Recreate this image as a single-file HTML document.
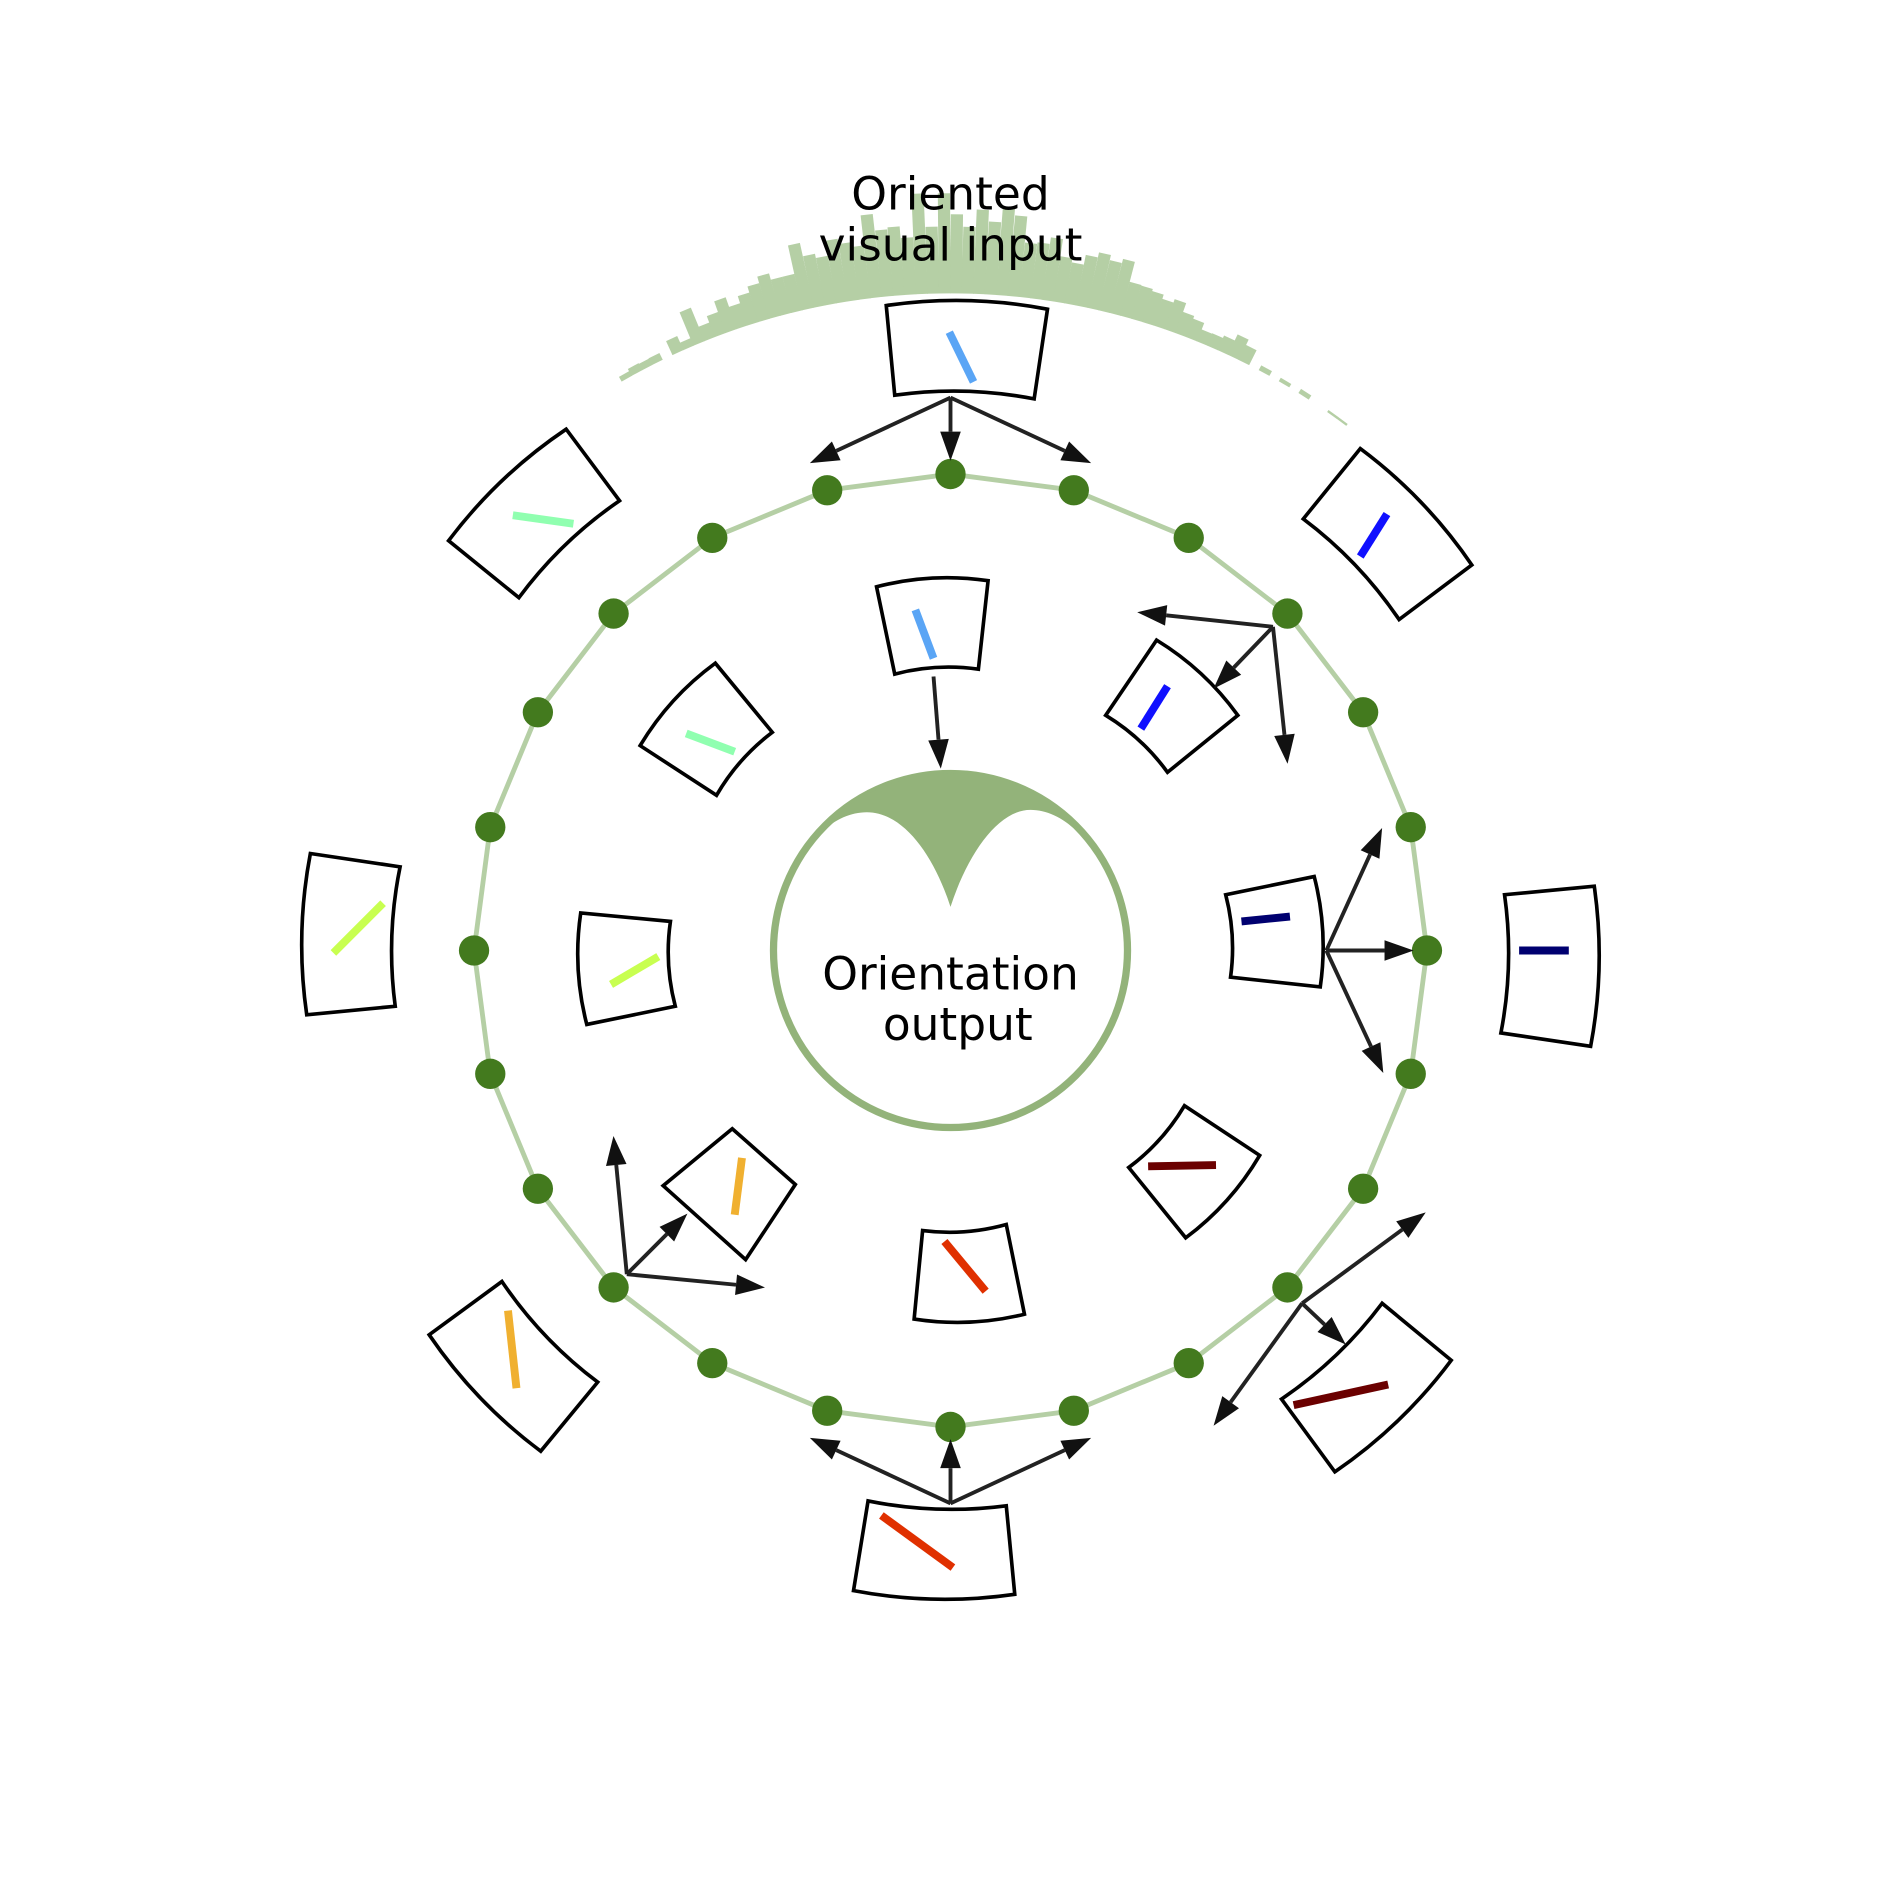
<!DOCTYPE html>
<html><head><meta charset="utf-8"><style>
html,body{margin:0;padding:0;background:#fff;}
svg{display:block;}
text{font-family:"DejaVu Sans","Liberation Sans",sans-serif;}
</style></head><body>
<svg id="s" width="1901" height="1901" viewBox="0 0 1568 1568" xmlns="http://www.w3.org/2000/svg">
<defs>
<clipPath id="cc"><circle cx="784" cy="784" r="146"/></clipPath>
</defs>
<g id="hist" fill="#b5cfa5"></g>
<g id="ring"></g>
<circle cx="784" cy="784" r="146" fill="#fff" stroke="#93b37a" stroke-width="6"/>
<path clip-path="url(#cc)" fill="#93b37a" d="M600,600 L600,760 L642,755 C655,700 685,670 715,670 C745,670 770,705 784,748 C798,705 823,668 850,668 C880,668 910,700 926,755 L970,760 L970,600 Z"/>
<g id="boxes"></g>
<g id="arrows"></g>
<text x="784" y="173" font-size="37.5" text-anchor="middle">Oriented</text>
<text x="784" y="215" font-size="37.5" text-anchor="middle">visual input</text>
<text x="784" y="816" font-size="37.5" text-anchor="middle">Orientation</text>
<text x="790" y="858" font-size="37.5" text-anchor="middle">output</text>
</svg>
<script>
var NS="http://www.w3.org/2000/svg",C=784;
function el(p,t,a){var e=document.createElementNS(NS,t);for(var k in a)e.setAttribute(k,a[k]);document.getElementById(p).appendChild(e);return e;}
var seed=7;function rnd(){seed=(seed*9301+49297)%233280;return seed/233280;}
var R0=542,n=70,a0=-31,a1=39;
for(var i=0;i<n;i++){var a=a0+(a1-a0)*(i+0.5)/n;var h=70*Math.exp(-a*a/(2*13*13))*(0.65+0.6*rnd());if(Math.abs(a)>22)h*=0.6+rnd();if(Math.abs(a)>25&&rnd()<0.35)continue;if(h<2)h=2;
var w=2*Math.PI*R0*((a1-a0)/n)/360+0.6;
el("hist","rect",{x:C-w/2,y:C-R0-h,width:w,height:h,transform:"rotate("+a+" "+C+" "+C+")"});}
var pts=[];for(var k=0;k<24;k++){var t=k*Math.PI/12;pts.push([C+393*Math.sin(t),C-393*Math.cos(t)]);}
el("ring","polygon",{points:pts.map(function(p){return p.join(",")}).join(" "),fill:"none",stroke:"#b5cfa5","stroke-width":4});
pts.forEach(function(p){el("ring","circle",{cx:p[0],cy:p[1],r:12.5,fill:"#437a1e"});});
function edge(p,q){var mx=(p[0]+q[0])/2,my=(p[1]+q[1])/2,dx=mx-C,dy=my-C,d=Math.hypot(dx,dy);var L=Math.hypot(q[0]-p[0],q[1]-p[1]);var s=L*L/(8*d*0.75)*2;return " Q"+(mx+dx/d*s)+","+(my+dy/d*s)+" "+q[0]+","+q[1];}
function box(c,l,col){var d="M"+c[0]+edge(c[0],c[1])+" L"+c[2]+edge(c[2],c[3])+" Z";
el("boxes","path",{d:d,fill:"#fff",stroke:"#000","stroke-width":3,"stroke-linejoin":"miter"});
el("boxes","line",{x1:l[0],y1:l[1],x2:l[2],y2:l[3],stroke:col,"stroke-width":6.5});}
var B=[
[[[731,252],[864,255],[853,329],[738,326]],[783,274,803,315],"#5aa5f5"],
[[[1122,370],[1214,466],[1154,511],[1075,428]],[1144,424,1122,459],"#1010ff"],
[[[1315,731],[1312,863],[1238,852],[1241,738]],[1253,784,1294,784],"#000070"],
[[[1197,1122],[1101,1214],[1057,1154],[1140,1075]],[1067,1159,1145,1142],"#6b0000"],
[[[716,1238],[830,1242],[837,1315],[704,1312]],[727,1250,786,1293],"#e03000"],
[[[414,1057],[493,1140],[446,1197],[354,1101]],[419,1081,426,1145],"#f0b030"],
[[[253,837],[256,704],[330,715],[326,830]],[275,786,316,745],"#c8ff50"],
[[[370,446],[467,354],[511,413],[428,493]],[423,425,473,432],"#90ffb0"],
[[[723,484],[815,479],[807,552],[738,556]],[755,503,770,543],"#5aa5f5"],
[[[954,528],[1021,590],[963,637],[912,590]],[963,566,941,601],"#1010ff"],
[[[1084,723],[1089,814],[1015,806],[1011,738]],[1024,760,1064,756],"#000070"],
[[[1039,953],[978,1021],[931,963],[977,912]],[947,962,1003,961],"#6b0000"],
[[[761,1015],[830,1010],[845,1084],[754,1088]],[779,1024,813,1065],"#e03000"],
[[[656,977],[615,1039],[547,978],[604,931]],[612,955,606,1002],"#f0b030"],
[[[484,845],[479,753],[553,760],[557,830]],[504,812,543,789],"#c8ff50"],
[[[528,615],[590,547],[637,604],[591,656]],[566,605,606,620],"#90ffb0"]];
B.forEach(function(b){box(b[0],b[1],b[2]);});
function arr(x1,y1,x2,y2){var dx=x2-x1,dy=y2-y1,d=Math.hypot(dx,dy),ux=dx/d,uy=dy/d,hl=24,hw=8.5;
var bx=x2-ux*hl,by=y2-uy*hl;
el("arrows","line",{x1:x1,y1:y1,x2:bx,y2:by,stroke:"#222","stroke-width":3.2});
el("arrows","polygon",{points:x2+","+y2+" "+(bx-uy*hw)+","+(by+ux*hw)+" "+(bx+uy*hw)+","+(by-ux*hw),fill:"#111"});}
[[784,328,784,380],[784,328,668,382],[784,328,900,382],[770,558,776,634],
[1050,517,938,505],[1050,517,1001,568],[1050,517,1062,630],
[1094,784,1140,683],[1094,784,1166,784],[1094,784,1141,885],
[1074,1075,1176,1000],[1074,1075,1110,1109],[1074,1075,1001,1176],
[784,1240,784,1187],[784,1240,668,1186],[784,1240,900,1186],
[517,1051,506,937],[517,1051,567,1001],[517,1051,631,1062]].forEach(function(a){arr(a[0],a[1],a[2],a[3]);});
</script>
</body></html>
